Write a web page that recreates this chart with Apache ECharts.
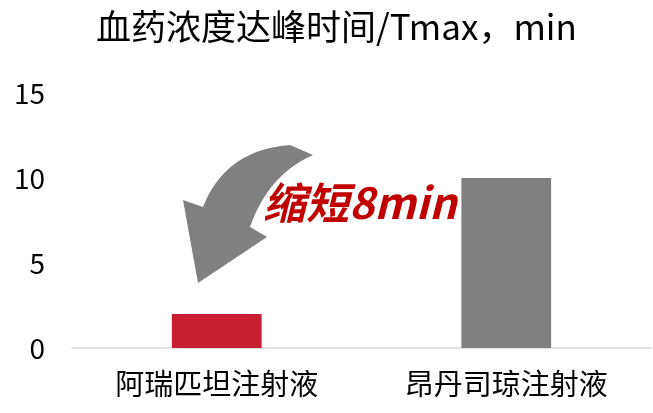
<!DOCTYPE html>
<html><head><meta charset="utf-8">
<script src="https://cdn.jsdelivr.net/npm/echarts@6/dist/echarts.min.js"></script>
<style>html,body{margin:0;padding:0;background:#fff}#c{width:653px;height:413px}</style>
</head><body><div id="c"></div>
<script>
const titleText = '血药浓度达峰时间/Tmax，min';
const categories = ['阿瑞匹坦注射液', '昂丹司琼注射液'];
const values = [2, 10];
const barColors = ['#c81e32', '#808080'];
const yTicks = [0, 5, 10, 15];
const annotation = '缩短8min';

function quad(p0, c, p1, n) {
  const pts = [];
  for (let i = 0; i <= n; i++) {
    const t = i / n, u = 1 - t;
    pts.push([u*u*p0[0] + 2*u*t*c[0] + t*t*p1[0], u*u*p0[1] + 2*u*t*c[1] + t*t*p1[1]]);
  }
  return pts;
}
const arrowPts = [].concat(
  quad([290,145],[225,150],[203,207],14),
  [[183,200],[198,283],[267,237]],
  quad([250,227],[268,175],[313,155],14)
);

const font = '"Noto Sans CJK SC", "Noto Sans", sans-serif';
const chart = echarts.init(document.getElementById('c'), null, {renderer: 'canvas'});
chart.setOption({
  animation: false,
  title: {
    text: titleText, left: 91, top: 4,
    textStyle: {fontFamily: font, fontSize: 35, fontWeight: 'normal', color: '#000'}
  },
  grid: {left: 72, right: 2, top: 93, bottom: 65},
  xAxis: {
    type: 'category', data: categories,
    axisLine: {lineStyle: {color: '#d9d9d9', width: 1.5}},
    axisTick: {show: false},
    axisLabel: {fontFamily: font, fontSize: 29, color: '#000', margin: 21}
  },
  yAxis: {
    type: 'value', min: yTicks[0], max: yTicks[yTicks.length - 1], interval: 5,
    axisLine: {show: false}, axisTick: {show: false}, splitLine: {show: false},
    axisLabel: {fontFamily: font, fontSize: 28, color: '#000', margin: 27}
  },
  series: [{
    type: 'bar', barWidth: '31%',
    data: values.map((v, i) => ({value: v, itemStyle: {color: barColors[i]}}))
  }],
  graphic: [
    {
      type: 'polygon',
      shape: {points: arrowPts},
      style: {fill: '#808080'}
    },
    {
      type: 'text', left: 263, top: 181,
      style: {text: annotation, fill: '#c00000', font: 'italic bold 43px ' + font}
    }
  ]
});
</script></body></html>
